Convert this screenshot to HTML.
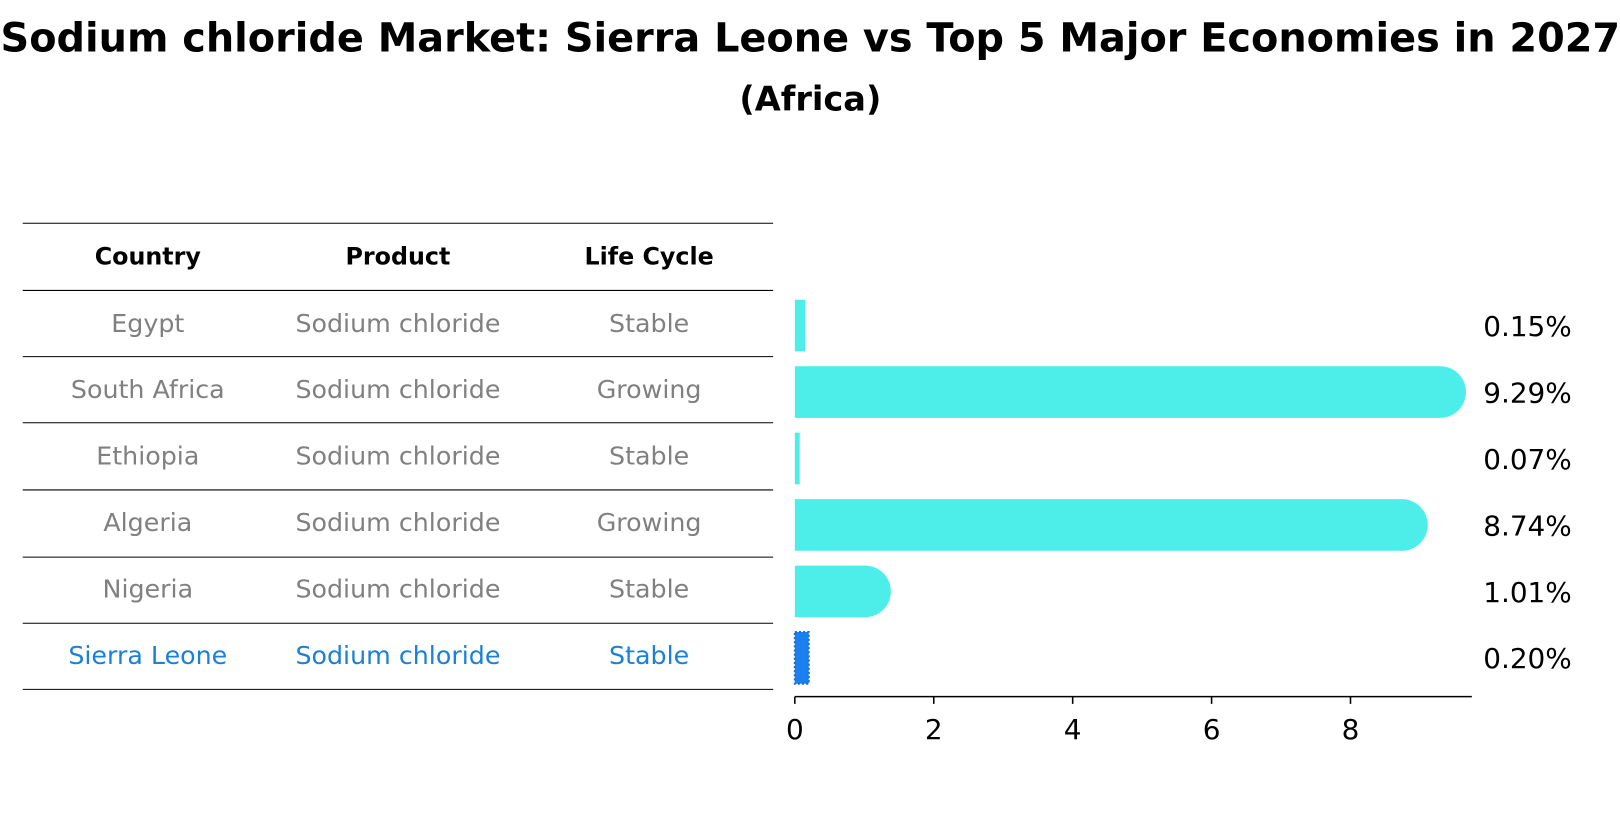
<!DOCTYPE html>
<html><head><meta charset="utf-8"><style>
body{margin:0;background:#fff;width:1620px;height:823px;overflow:hidden;font-family:"DejaVu Sans","Liberation Sans",sans-serif}
</style></head><body>
<svg id="c" width="1620" height="823" xmlns="http://www.w3.org/2000/svg">
<g transform="scale(1.0336)">
<text x="784" y="50" text-anchor="middle" font-size="38.5" font-weight="bold">Sodium chloride Market: Sierra Leone vs Top 5 Major Economies in 2027</text>
<text x="784" y="107" text-anchor="middle" font-size="32.5" font-weight="bold">(Africa)</text>
<g id="table"></g>
<g id="bars"></g>
</g>
</svg>
<script>
const countries=["Egypt","South Africa","Ethiopia","Algeria","Nigeria","Sierra Leone"];
const products=["Sodium chloride","Sodium chloride","Sodium chloride","Sodium chloride","Sodium chloride","Sodium chloride"];
const lifeCycles=["Stable","Growing","Stable","Growing","Stable","Stable"];
const values=[0.15,9.29,0.07,8.74,1.01,0.20];
const valueLabels=["0.15%","9.29%","0.07%","8.74%","1.01%","0.20%"];
const xTicks=[0,2,4,6,8];
const NS="http://www.w3.org/2000/svg";
function mk(t,a,p){const e=document.createElementNS(NS,t);for(const k in a)e.setAttribute(k,a[k]);p.appendChild(e);return e;}
const tbl=document.getElementById('table'),bars=document.getElementById('bars');
const x=v=>769+v*67.2;
const rowY=i=>313+i*64.3;
const lines=[216,281,345,409,474,539,603,667];
lines.forEach(y=>{const l=mk('line',{x1:22,x2:748,y1:y,y2:y,stroke:'#000','stroke-width':1},tbl);

});
const cols=[143,385,628],heads=["Country","Product","Life Cycle"];
heads.forEach((h,j)=>{const t=mk('text',{x:cols[j],y:256,'text-anchor':'middle','font-size':23,'font-weight':'bold'},tbl);t.textContent=h;

});
countries.forEach((c,i)=>{
 const col=i===countries.length-1?'#1a80d8':'#808080';
 [c,products[i],lifeCycles[i]].forEach((s,j)=>{const t=mk('text',{x:cols[j],y:rowY(i)+8,'text-anchor':'middle','font-size':24.5,fill:col},tbl);t.textContent=s;
 
 });
 const hl=i===countries.length-1;
 const y0=rowY(i)-26+3,h=50,w=x(values[i])-x(0);
 let b;
 if(values[i]>0.5){
  const r=25,x1=x(values[i]);
  b=mk('path',{d:`M${x(0)},${y0}H${x1}A${r},${r} 0 0 1 ${x1},${y0+h}H${x(0)}Z`,fill:'#4deeea'},bars);
 } else {
  b=mk('rect',{x:x(0),y:y0,width:Math.max(w,2),height:h,fill:hl?'#1a80f0':'#4deeea',stroke:hl?'#1a6fd0':'none','stroke-dasharray':hl?'2,2':'none','stroke-width':hl?2:0},bars);
 }
 
 
 const t=mk('text',{x:1435,y:rowY(i)+12,'font-size':27},bars);t.textContent=valueLabels[i];
 
 
});
const ax=mk('line',{x1:769,x2:1424,y1:674,y2:674,stroke:'#000','stroke-width':1.5},bars);


xTicks.forEach(v=>{const l=mk('line',{x1:x(v),x2:x(v),y1:674,y2:681,stroke:'#000','stroke-width':1.5},bars);


const t=mk('text',{x:x(v),y:715,'text-anchor':'middle','font-size':27},bars);t.textContent=v;

});
</script>
</body></html>
